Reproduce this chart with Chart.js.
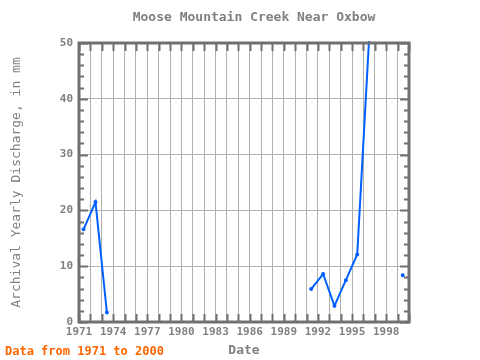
<!DOCTYPE html>
<html><head><meta charset="utf-8">
<script src="https://cdn.jsdelivr.net/npm/chart.js@4/dist/chart.umd.min.js"></script>
<style>html,body{margin:0;padding:0;background:#fff}#wrap{width:480px;height:360px}</style>
</head><body><div id="wrap"><canvas id="c" width="480" height="360"></canvas></div>
<script>
const titleText = "Moose Mountain Creek Near Oxbow";
const footerText = "Data from 1971 to 2000";
const xTitle = "Date";
const yTitle = "Archival Yearly Discharge, in mm";
const dates = [1971.4,1972.45,1973.45,1974.45,1990.45,1991.4,1992.45,1993.45,1994.45,1995.45,1996.5,1997.45,1999.45];
const discharge = [16.6,21.5,1.7,null,null,5.9,8.6,2.9,7.5,12.1,51,null,8.4];
const xMin = 1971, xMax = 2000;
const yMin = 0, yMax = 50;
const xLabelYears = [1971,1974,1977,1980,1983,1986,1989,1992,1995,1998];

const gray = '#808080';
const frame = '#707070';
const points = dates.map((d,i)=>({x:d,y:discharge[i]}));

const deco = {
  id:'deco',
  afterDraw(chart){
    const {ctx, chartArea:a, scales:{x,y}} = chart;
    ctx.save();
    ctx.strokeStyle = frame; ctx.lineWidth = 2;
    ctx.beginPath();
    for(let v=xMin; v<=xMax; v++){
      const px = Math.round(x.getPixelForValue(v))+0.5;
      ctx.moveTo(px,a.top); ctx.lineTo(px,a.top+8);
      ctx.moveTo(px,a.bottom); ctx.lineTo(px,a.bottom-8);
    }
    for(let v=yMin; v<=yMax; v+=2){
      const py = Math.round(y.getPixelForValue(v))+0.5;
      const L = v%10===0 ? 9 : 5;
      ctx.moveTo(a.left,py); ctx.lineTo(a.left+L,py);
      ctx.moveTo(a.right,py); ctx.lineTo(a.right-L,py);
    }
    ctx.stroke();
    ctx.lineWidth = 3;
    ctx.strokeRect(a.left, a.top, a.right-a.left, a.bottom-a.top);
    ctx.fillStyle = gray;
    ctx.font = 'bold 13px "DejaVu Sans Mono"';
    ctx.textAlign='center'; ctx.textBaseline='middle';
    ctx.fillText(titleText, 254, 18);
    ctx.fillStyle = '#ff6600';
    ctx.font = 'bold 12px "DejaVu Sans Mono"';
    ctx.textAlign='left';
    ctx.fillText(footerText, 5, 352);
    ctx.restore();
  }
};

new Chart(document.getElementById('c'), {
  type:'line',
  data:{datasets:[{
    data: points,
    borderColor:'#0060ff', backgroundColor:'#0060ff',
    borderWidth:2, pointRadius:1, pointHoverRadius:0,
    spanGaps:false, tension:0, clip:2
  }]},
  options:{
    responsive:false, animation:false, events:[],
    layout:{padding:{left:9,right:71,top:43,bottom:2}},
    plugins:{legend:{display:false},title:{display:false},tooltip:{enabled:false}},
    scales:{
      x:{type:'linear', min:xMin, max:xMax,
        afterBuildTicks(s){ s.ticks = []; for(let v=xMin; v<=xMax; v++) s.ticks.push({value:v}); },
        afterFit(s){ s.height = 36; },
        ticks:{autoSkip:false, maxRotation:0, padding:4, color:gray,
          font:{family:'"DejaVu Sans Mono"', size:11, weight:'bold'},
          callback:(v)=> xLabelYears.includes(v) ? String(v) : ''},
        grid:{color:'#b0b0b0', lineWidth:1, drawTicks:false},
        border:{display:false},
        title:{display:true, text:xTitle, color:gray, padding:{top:0,bottom:0},
          font:{family:'"DejaVu Sans Mono"', size:13, weight:'bold'}}
      },
      y:{min:yMin, max:yMax,
        afterFit(s){ s.width = 70; },
        ticks:{stepSize:10, padding:6, color:gray,
          font:{family:'"DejaVu Sans Mono"', size:11, weight:'bold'}},
        grid:{color:'#b0b0b0', lineWidth:1, drawTicks:false},
        border:{display:false},
        title:{display:true, text:yTitle, color:gray, padding:{top:0,bottom:4},
          font:{family:'"DejaVu Sans Mono"', size:13, weight:'normal'}}
      }
    }
  },
  plugins:[deco]
});
</script></body></html>
